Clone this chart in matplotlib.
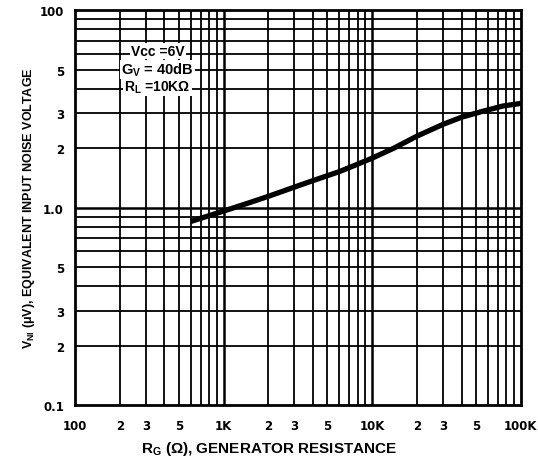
import matplotlib
matplotlib.use("Agg")
import matplotlib.pyplot as plt

plt.rcParams['font.family'] = ['Liberation Sans', 'DejaVu Sans']
plt.rcParams['font.weight'] = 'bold'
plt.rcParams['mathtext.fontset'] = 'custom'
plt.rcParams['mathtext.rm'] = 'Liberation Sans:bold'
plt.rcParams['mathtext.it'] = 'Liberation Sans:bold'
plt.rcParams['mathtext.bf'] = 'Liberation Sans:bold'

# Data
resistance = [600, 800, 1000, 1500, 2000, 3000, 4000, 6000, 8000, 10000, 14000, 20000, 30000, 40000, 56000, 76000, 100000]
noise_uv = [0.85, 0.91, 0.96, 1.06, 1.14, 1.27, 1.37, 1.52, 1.66, 1.78, 2.0, 2.3, 2.64, 2.87, 3.08, 3.27, 3.37]

x_ticks = [100, 200, 300, 500, 1000, 2000, 3000, 5000, 10000, 20000, 30000, 50000, 100000]
x_labels = ["100", "2", "3", "5", "1K", "2", "3", "5", "10K", "2", "3", "5", "100K"]
y_ticks = [0.1, 0.2, 0.3, 0.5, 1.0, 2, 3, 5, 10]
y_labels = ["0.1", "2", "3", "5", "1.0", "2", "3", "5", "100"]

fig = plt.figure(figsize=(5.38, 4.64), dpi=100)
ax = fig.add_axes([0.1394, 0.125, 0.8286, 0.851])
ax.set_xscale('log')
ax.set_yscale('log')
ax.set_xlim(100, 100000)
ax.set_ylim(0.1, 10)

# grid lines
for dec in [100, 1000, 10000]:
    for m in range(2, 10):
        ax.axvline(dec * m, color='black', lw=1.3, zorder=1)
for dec in [1000, 10000]:
    ax.axvline(dec, color='black', lw=1.8, zorder=1)
for dec in [0.1, 1.0]:
    for m in range(2, 10):
        ax.axhline(dec * m, color='black', lw=1.3, zorder=1)
ax.axhline(1.0, color='black', lw=1.8, zorder=1)

ax.plot(resistance, noise_uv, color='black', lw=3.8, solid_capstyle='butt',
        solid_joinstyle='round', zorder=3)

ax.set_xticks([], minor=True)
ax.set_xticks(x_ticks)
ax.set_xticklabels(x_labels, fontsize=8.5, fontweight='bold', family='DejaVu Sans')
ax.set_yticks([], minor=True)
ax.set_yticks(y_ticks)
ax.set_yticklabels(y_labels, fontsize=8.5, fontweight='bold', family='DejaVu Sans')
ax.tick_params(axis='x', length=0, pad=10)
ax.tick_params(axis='y', length=0, pad=8)

for s in ax.spines.values():
    s.set_linewidth(2.0)

ax.set_xlabel(r"R$_{\mathrm{G}}$ ($\Omega$), GENERATOR RESISTANCE", fontsize=11, fontweight='bold')
ax.xaxis.set_label_coords(0.435, -0.085)
ax.set_ylabel(r"V$_{\mathrm{NI}}$ ($\mu$V), EQUIVALENT INPUT NOISE VOLTAGE", fontsize=9, fontweight='bold')
ax.yaxis.set_label_coords(-0.085, 0.5)

box = dict(facecolor='white', edgecolor='none', pad=0.8)
tx = 360
ax.text(tx, 6.2, "Vcc =6V", fontsize=10, fontweight='bold', ha='center', va='center', bbox=box, zorder=4)
ax.text(tx, 5.0, r"G$_{\mathrm{V}}$ = 40dB", fontsize=10.5, fontweight='bold', ha='center', va='center', bbox=box, zorder=4)
ax.text(tx, 4.1, "R$_{\mathrm{L}}$ =10KΩ", fontsize=10, fontweight='bold', ha='center', va='center', bbox=box, zorder=4)

fig.savefig("out.png", dpi=100)
